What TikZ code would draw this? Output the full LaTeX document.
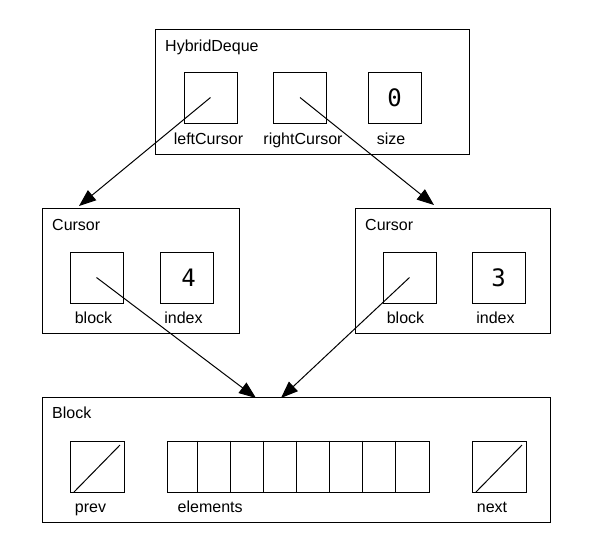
\documentclass[tikz,border=0pt]{standalone}
\usepackage{fontspec}
\setmainfont{Liberation Sans}
\newfontfamily\digitfont{DejaVu Sans Mono}
\usetikzlibrary{positioning,arrows.meta}
\tikzstyle{frame}=[draw,line width=1pt,inner sep=0pt,minimum height=125pt]
\tikzstyle{slot}=[draw,line width=1pt,inner sep=0pt,minimum width=53pt,minimum height=51pt,
    font=\fontsize{24}{28}\selectfont\digitfont]
\tikzstyle{nullslot}=[slot,
    path picture={\draw[line width=1pt] ([xshift=4pt]path picture bounding box.south west)
        -- ([xshift=-4pt,yshift=-4pt]path picture bounding box.north east);}]
\tikzstyle{title}=[anchor=base west,inner sep=0pt,font=\fontsize{16}{19}\selectfont]
\tikzstyle{field}=[inner sep=0pt,font=\fontsize{16}{19}\selectfont]
\tikzstyle{pointer}=[line width=1pt,-{Triangle[length=17pt,width=13pt]}]

\begin{document}
\begin{tikzpicture}[x=1pt,y=-1pt]

    \useasboundingbox (0,0) rectangle (597,547);

    \node[frame,minimum width=314pt] (deque) at (312,91.5) {};
    \node[title] (dequet) at (165,51) {HybridDeque};
    \node[slot] (dleft)  at (210.5,97.5) {};
    \node[slot] (dright) at (300,97.5)   {};
    \node[slot] (dsize)  at (394.5,97.5) {0};
    \node[field,below=21pt of dleft,anchor=base,xshift=-2pt]    (dleftl)  {leftCursor};
    \node[field,below=21pt of dright,anchor=base,xshift=3pt]    (drightl) {rightCursor};
    \node[field,below=21pt of dsize,anchor=base,xshift=-3.5pt]  (dsizel)  {size};

    \node[frame,minimum width=197pt] (lcur) at (140.5,270.5) {};
    \node[title] (lcurt) at (52,230) {Cursor};
    \node[slot] (lblock) at (96.5,277.5)  {};
    \node[slot] (lindex) at (186.5,277.5) {\hspace*{4pt}4};
    \node[field,below=20pt of lblock,anchor=base,xshift=-3pt] (lblockl) {block};
    \node[field,below=20pt of lindex,anchor=base,xshift=-3pt] (lindexl) {index};

    \node[frame,minimum width=195pt] (rcur) at (452.5,270.5) {};
    \node[title] (rcurt) at (365,230) {Cursor};
    \node[slot] (rblock) at (409.5,277.5) {};
    \node[slot] (rindex) at (498.5,277.5) {3};
    \node[field,below=20pt of rblock,anchor=base,xshift=-4pt] (rblockl) {block};
    \node[field,below=20pt of rindex,anchor=base,xshift=-3pt] (rindexl) {index};

    \node[frame,minimum width=508pt] (block) at (296,459.5) {};
    \node[title] (blockt) at (52,418) {Block};
    \node[nullslot,minimum width=54pt] (prev) at (97,466.5)  {};
    \node[nullslot,minimum width=54pt] (next) at (499,466.5) {};
    \node[slot,minimum width=262pt] (elems) at (298,466.5) {};
    \foreach \x in {197,230,263,296,329,362,395}
        \draw[line width=1pt] (\x,0 |- elems.north) -- (\x,0 |- elems.south);
    \node[field,below=20pt of prev,anchor=base,xshift=-6.5pt] (prevl) {prev};
    \node[field,below=20pt of next,anchor=base,xshift=-7pt]   (nextl) {next};
    \node[field,below right=20pt and 11pt of elems.south west,anchor=base west] (elemsl) {elements};

    \coordinate (lcurin)  at (79,206);
    \coordinate (rcurin)  at (434,205);
    \coordinate (blockin) at (256,398);
    \coordinate (blockin2) at (281,398);

    \draw[pointer] (dleft.center)  -- (lcurin);
    \draw[pointer] (dright.center) -- (rcurin);
    \draw[pointer] (lblock.center) -- (blockin);
    \draw[pointer] (rblock.center) -- (blockin2);

\end{tikzpicture}
\end{document}
